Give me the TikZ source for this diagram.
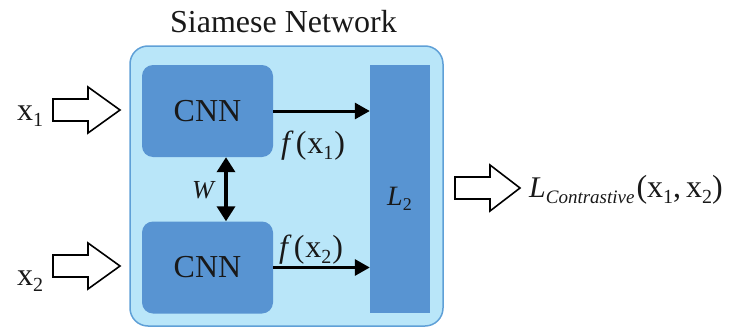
\documentclass[tikz,border=0pt]{standalone}
\usepackage{fontspec}
\setmainfont{Liberation Serif}
\usetikzlibrary{arrows.meta}
\definecolor{outerfill}{RGB}{185,230,249}
\definecolor{outerline}{RGB}{95,160,215}
\definecolor{blockfill}{RGB}{88,148,210}
\definecolor{txt}{RGB}{25,25,25}
\newcommand{\sbs}[1]{{\fontsize{20}{20}\selectfont\raisebox{-6pt}{#1}}}
\newcommand{\blockarrow}[4]{%
  \draw[blockstyle] (#1,#4-11) -- (#2,#4-11) -- (#2,#4-23) -- (#3,#4)
    -- (#2,#4+23) -- (#2,#4+11) -- (#1,#4+11) -- cycle;}
\begin{document}
\begin{tikzpicture}[x=1pt,y=-1pt,
  font=\fontsize{32}{38}\selectfont, text=txt,
  outerbox/.style={draw=outerline, fill=outerfill, line width=1.5pt,
    rounded corners=18pt, minimum width=313pt, minimum height=280pt, inner sep=0pt},
  cnnbox/.style={fill=blockfill, rounded corners=11pt, minimum width=131pt,
    minimum height=92pt, inner sep=0pt, font=\fontsize{32}{38}\selectfont},
  l2bar/.style={fill=blockfill, minimum width=60pt, minimum height=248pt, inner sep=0pt},
  flow/.style={line width=3pt, -{Triangle[length=15pt,width=16pt]}},
  shared/.style={line width=3.5pt, {Triangle[length=15pt,width=18pt]}-{Triangle[length=15pt,width=18pt]}},
  blockstyle/.style={draw=black, fill=white, line width=1.6pt, line join=miter},
  lbl/.style={anchor=base west, inner sep=0pt}
]
\useasboundingbox (0,0) rectangle (731,332);
\node[outerbox] (outer) at (286.5,186) {};
\node[cnnbox] (cnn1) at (207.5,111) {CNN};
\node[cnnbox] (cnn2) at (207.5,267.5) {CNN};
\node[l2bar] (l2) at (400,189) {};
\node[lbl, font=\fontsize{28}{34}\selectfont] (l2t) at (387,205) {\textit{L}{\fontsize{18}{18}\selectfont\raisebox{-5pt}{2}}};

\draw[flow] (cnn1.east) -- (cnn1.east -| l2.west);
\draw[flow] (cnn2.east) -- (cnn2.east -| l2.west);
\draw[shared] ([xshift=18.5pt]cnn1.south) -- ([xshift=18.5pt]cnn2.north);

\node[lbl] (f1) at (281,153) {\textit{f}\kern2pt(\kern1pt x\sbs{1}\kern1pt)};
\node[lbl] (f2) at (279,257) {\textit{f}\kern2pt(\kern1pt x\sbs{2}\kern1pt)};
\node[lbl, font=\fontsize{26}{30}\selectfont] (w) at (192,198) {\textit{W}};

\node[lbl, font=\fontsize{32}{38}\selectfont] (title) at (170,32) {Siamese Network};

\node[lbl] (x1) at (17,120) {x\sbs{1}};
\node[lbl] (x2) at (17,285) {x\sbs{2}};
\blockarrow{53}{88}{120}{110}
\blockarrow{53}{88}{120}{266}
\blockarrow{455}{490}{520}{188}

\node[lbl] (out) at (529,197) {{\fontsize{30}{34}\selectfont\textit{L}}{\fontsize{19}{19}\selectfont\raisebox{-6pt}{\textit{Contrastive}}}\kern2pt(x\sbs{1},\kern5pt x\sbs{2})};
\end{tikzpicture}
\end{document}
